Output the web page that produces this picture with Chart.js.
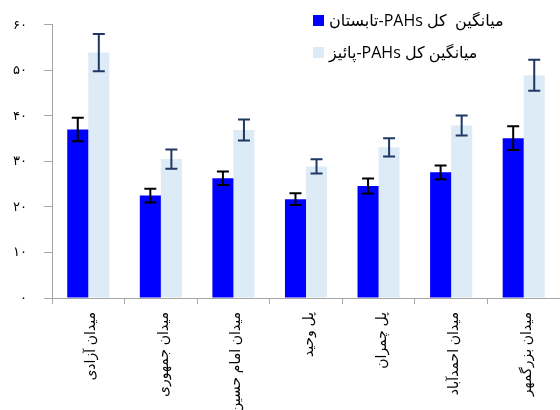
<!DOCTYPE html>
<html>
<head>
<meta charset="utf-8">
<script src="https://cdn.jsdelivr.net/npm/chart.js@4"></script>
<style>
  html, body { margin: 0; background: #fff; }
  #wrap { width: 560px; height: 410px; }
</style>
</head>
<body>
<div id="wrap"><canvas id="chart"></canvas></div>
<script>
const stations = ['میدان آزادی', 'میدان جمهوری', 'میدان امام حسین', 'پل وحید', 'پل چمران', 'میدان احمدآباد', 'میدان بزرگمهر'];
const summerMean = [37.0, 22.5, 26.3, 21.7, 24.6, 27.6, 35.1];
const summerErr = [2.6, 1.5, 1.5, 1.3, 1.65, 1.5, 2.6];
const autumnMean = [53.9, 30.5, 36.9, 28.9, 33.1, 37.9, 48.9];
const autumnErr = [4.1, 2.1, 2.3, 1.55, 2.0, 2.2, 3.4];
const seriesNames = ['میانگین  کل PAHs-تابستان', 'میانگین کل PAHs-پائیز'];
const yMin = 0, yMax = 60, yStep = 10;

const FONT = "'Open Sans', 'DejaVu Sans', sans-serif";
const toPersian = v => String(v).replace(/\d/g, d => '۰۱۲۳۴۵۶۷۸۹'[d]);

// error bars drawn from the bar elements and the y scale
const errorBars = {
  id: 'errorBars',
  afterDatasetsDraw(chart) {
    const ctx = chart.ctx, y = chart.scales.y;
    chart.data.datasets.forEach((ds, i) => {
      const meta = chart.getDatasetMeta(i);
      ctx.save();
      ctx.strokeStyle = ds.errorColor;
      ctx.lineWidth = 2;
      meta.data.forEach((bar, j) => {
        const hi = y.getPixelForValue(ds.data[j] + ds.errors[j]);
        const lo = y.getPixelForValue(ds.data[j] - ds.errors[j]);
        const x = bar.x, w = 6;
        ctx.beginPath();
        ctx.moveTo(x, hi); ctx.lineTo(x, lo);
        ctx.moveTo(x - w, hi); ctx.lineTo(x + w, hi);
        ctx.moveTo(x - w, lo); ctx.lineTo(x + w, lo);
        ctx.stroke();
      });
      ctx.restore();
    });
  }
};

// legend box in the top right, text in rtl
const cornerLegend = {
  id: 'cornerLegend',
  afterDraw(chart) {
    const ctx = chart.ctx;
    ctx.save();
    chart.data.datasets.forEach((ds, i) => {
      const top = 15 + i * 32;
      ctx.fillStyle = ds.backgroundColor;
      ctx.fillRect(313, top, 11, 11);
      ctx.fillStyle = '#000';
      ctx.font = '16px ' + FONT;
      ctx.direction = 'rtl';
      ctx.textAlign = 'left';
      ctx.textBaseline = 'middle';
      ctx.fillText(ds.label, 329, top + 6);
    });
    ctx.restore();
  }
};

new Chart(document.getElementById('chart'), {
  type: 'bar',
  data: {
    labels: stations,
    datasets: [
      { label: seriesNames[0], data: summerMean, errors: summerErr, backgroundColor: '#0000ff', errorColor: '#000000' },
      { label: seriesNames[1], data: autumnMean, errors: autumnErr, backgroundColor: '#ddebf7', errorColor: '#1f3864' }
    ]
  },
  plugins: [errorBars, cornerLegend],
  options: {
    responsive: true,
    maintainAspectRatio: false,
    animation: false,
    categoryPercentage: 0.58,
    barPercentage: 1,
    layout: { padding: { top: 24, right: 0, left: 0, bottom: 0 } },
    plugins: { legend: { display: false }, tooltip: { enabled: false } },
    scales: {
      x: {
        grid: { drawOnChartArea: false, tickLength: 6, color: '#a6a6a6' },
        border: { color: '#a6a6a6', width: 1 },
        ticks: { minRotation: 90, maxRotation: 90, autoSkip: false, padding: 8, labelOffset: 3, color: '#000', font: { family: FONT, size: 14 } },
        afterFit: s => { s.height = 112; }
      },
      y: {
        min: yMin, max: yMax,
        grid: { drawOnChartArea: false, tickLength: 8, color: '#a6a6a6' },
        border: { color: '#a6a6a6', width: 1 },
        ticks: { stepSize: yStep, padding: 17, color: '#000', font: { family: FONT, size: 13 }, callback: v => toPersian(v) },
        afterFit: s => { s.width = 52; }
      }
    }
  }
});
</script>
</body>
</html>
